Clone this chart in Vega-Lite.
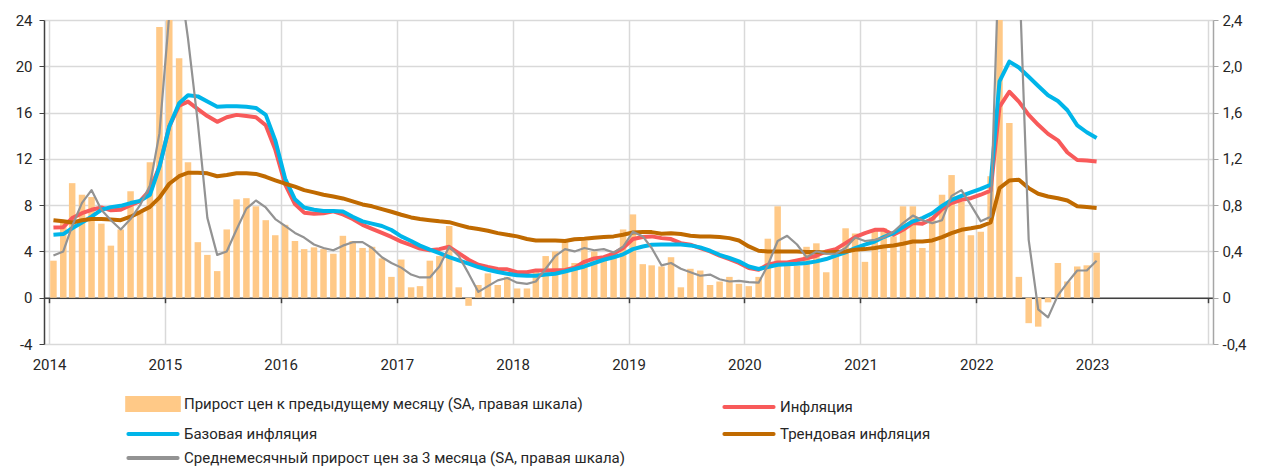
{
  "$schema": "https://vega.github.io/schema/vega-lite/v6.json",
  "width": 1169,
  "height": 324,
  "autosize": "none",
  "padding": {"left": 44, "top": 20, "right": 52, "bottom": 124},
  "background": "white",
  "config": {
    "font": "Roboto",
    "view": {"stroke": null},
    "axis": {"labelFont": "Roboto", "labelFontSize": 15, "labelColor": "#262626", "titleFontSize": 0},
    "legend": {
      "orient": "none", "legendX": 83, "legendY": 376, "direction": "horizontal", "columns": 2, "columnPadding": 91, "rowPadding": 8,
      "labelFont": "Roboto", "labelFontSize": 15, "labelColor": "#262626", "labelLimit": 700,
      "symbolOffset": 18, "labelOffset": 23, "symbolSize": 144, "symbolStrokeWidth": 4, "title": null
    }
  },
  "data": {"values": [
    {"d":"2014-01-15","m":0.32,"i":6.07,"b":5.44,"t":6.7,"a":0.365},
    {"d":"2014-02-15","m":0.65,"i":6.1,"b":5.5,"t":6.6,"a":0.40},
    {"d":"2014-03-15","m":0.99,"i":6.88,"b":6.0,"t":6.5,"a":0.62},
    {"d":"2014-04-15","m":0.89,"i":7.3,"b":6.5,"t":6.7,"a":0.82},
    {"d":"2014-05-15","m":0.87,"i":7.6,"b":7.0,"t":6.8,"a":0.93},
    {"d":"2014-06-15","m":0.64,"i":7.8,"b":7.6,"t":6.8,"a":0.76},
    {"d":"2014-07-15","m":0.45,"i":7.55,"b":7.83,"t":6.75,"a":0.67},
    {"d":"2014-08-15","m":0.59,"i":7.6,"b":7.94,"t":6.7,"a":0.59},
    {"d":"2014-09-15","m":0.92,"i":8.0,"b":8.18,"t":7.0,"a":0.68},
    {"d":"2014-10-15","m":0.75,"i":8.35,"b":8.37,"t":7.4,"a":0.80},
    {"d":"2014-11-15","m":1.17,"i":9.3,"b":8.9,"t":7.85,"a":0.97},
    {"d":"2014-12-15","m":2.34,"i":11.35,"b":11.3,"t":8.65,"a":1.42},
    {"d":"2015-01-15","m":3.85,"i":14.8,"b":14.8,"t":9.85,"a":2.45},
    {"d":"2015-02-15","m":2.07,"i":16.6,"b":16.8,"t":10.5,"a":2.8},
    {"d":"2015-03-15","m":1.17,"i":16.95,"b":17.5,"t":10.8,"a":2.24},
    {"d":"2015-04-15","m":0.48,"i":16.3,"b":17.4,"t":10.8,"a":1.51},
    {"d":"2015-05-15","m":0.37,"i":15.7,"b":16.95,"t":10.75,"a":0.69},
    {"d":"2015-06-15","m":0.23,"i":15.2,"b":16.5,"t":10.5,"a":0.37},
    {"d":"2015-07-15","m":0.59,"i":15.6,"b":16.55,"t":10.6,"a":0.40},
    {"d":"2015-08-15","m":0.85,"i":15.8,"b":16.55,"t":10.75,"a":0.59},
    {"d":"2015-09-15","m":0.86,"i":15.7,"b":16.5,"t":10.75,"a":0.77},
    {"d":"2015-10-15","m":0.79,"i":15.6,"b":16.4,"t":10.7,"a":0.84},
    {"d":"2015-11-15","m":0.67,"i":14.9,"b":15.8,"t":10.45,"a":0.78},
    {"d":"2015-12-15","m":0.54,"i":12.8,"b":13.6,"t":10.15,"a":0.68},
    {"d":"2016-01-15","m":0.63,"i":9.8,"b":10.3,"t":9.85,"a":0.62},
    {"d":"2016-02-15","m":0.49,"i":8.1,"b":8.5,"t":9.6,"a":0.56},
    {"d":"2016-03-15","m":0.42,"i":7.35,"b":7.8,"t":9.3,"a":0.52},
    {"d":"2016-04-15","m":0.435,"i":7.25,"b":7.6,"t":9.1,"a":0.46},
    {"d":"2016-05-15","m":0.42,"i":7.3,"b":7.5,"t":8.9,"a":0.43},
    {"d":"2016-06-15","m":0.38,"i":7.46,"b":7.5,"t":8.75,"a":0.41},
    {"d":"2016-07-15","m":0.535,"i":7.2,"b":7.46,"t":8.58,"a":0.45},
    {"d":"2016-08-15","m":0.49,"i":6.8,"b":7.0,"t":8.32,"a":0.48},
    {"d":"2016-09-15","m":0.43,"i":6.3,"b":6.6,"t":8.06,"a":0.48},
    {"d":"2016-10-15","m":0.44,"i":5.95,"b":6.4,"t":7.9,"a":0.43},
    {"d":"2016-11-15","m":0.34,"i":5.6,"b":6.2,"t":7.66,"a":0.35},
    {"d":"2016-12-15","m":0.18,"i":5.25,"b":5.85,"t":7.43,"a":0.30},
    {"d":"2017-01-15","m":0.33,"i":4.85,"b":5.3,"t":7.17,"a":0.26},
    {"d":"2017-02-15","m":0.09,"i":4.55,"b":4.9,"t":6.94,"a":0.20},
    {"d":"2017-03-15","m":0.10,"i":4.25,"b":4.5,"t":6.8,"a":0.175},
    {"d":"2017-04-15","m":0.32,"i":4.1,"b":4.15,"t":6.7,"a":0.175},
    {"d":"2017-05-15","m":0.36,"i":4.2,"b":3.86,"t":6.6,"a":0.27},
    {"d":"2017-06-15","m":0.62,"i":4.4,"b":3.51,"t":6.53,"a":0.44},
    {"d":"2017-07-15","m":0.09,"i":3.86,"b":3.22,"t":6.3,"a":0.36},
    {"d":"2017-08-15","m":-0.07,"i":3.28,"b":2.94,"t":6.07,"a":0.21},
    {"d":"2017-09-15","m":0.11,"i":2.85,"b":2.65,"t":5.93,"a":0.05},
    {"d":"2017-10-15","m":0.21,"i":2.65,"b":2.42,"t":5.79,"a":0.10},
    {"d":"2017-11-15","m":0.11,"i":2.48,"b":2.22,"t":5.58,"a":0.15},
    {"d":"2017-12-15","m":0.18,"i":2.45,"b":2.07,"t":5.44,"a":0.17},
    {"d":"2018-01-15","m":0.08,"i":2.2,"b":1.95,"t":5.3,"a":0.13},
    {"d":"2018-02-15","m":0.08,"i":2.2,"b":1.9,"t":5.07,"a":0.12},
    {"d":"2018-03-15","m":0.23,"i":2.36,"b":1.9,"t":4.95,"a":0.14},
    {"d":"2018-04-15","m":0.36,"i":2.36,"b":2.0,"t":4.95,"a":0.25},
    {"d":"2018-05-15","m":0.40,"i":2.38,"b":2.07,"t":4.95,"a":0.36},
    {"d":"2018-06-15","m":0.48,"i":2.4,"b":2.27,"t":4.9,"a":0.42},
    {"d":"2018-07-15","m":0.30,"i":2.6,"b":2.48,"t":5.05,"a":0.40},
    {"d":"2018-08-15","m":0.49,"i":3.1,"b":2.7,"t":5.1,"a":0.43},
    {"d":"2018-09-15","m":0.40,"i":3.4,"b":3.0,"t":5.18,"a":0.41},
    {"d":"2018-10-15","m":0.36,"i":3.5,"b":3.28,"t":5.24,"a":0.42},
    {"d":"2018-11-15","m":0.38,"i":3.8,"b":3.5,"t":5.3,"a":0.39},
    {"d":"2018-12-15","m":0.59,"i":4.29,"b":3.75,"t":5.44,"a":0.44},
    {"d":"2019-01-15","m":0.72,"i":5.07,"b":4.2,"t":5.64,"a":0.57},
    {"d":"2019-02-15","m":0.29,"i":5.24,"b":4.43,"t":5.67,"a":0.53},
    {"d":"2019-03-15","m":0.28,"i":5.3,"b":4.58,"t":5.67,"a":0.43},
    {"d":"2019-04-15","m":0.27,"i":5.15,"b":4.6,"t":5.53,"a":0.28},
    {"d":"2019-05-15","m":0.35,"i":5.07,"b":4.6,"t":5.58,"a":0.30},
    {"d":"2019-06-15","m":0.09,"i":4.72,"b":4.6,"t":5.5,"a":0.25},
    {"d":"2019-07-15","m":0.25,"i":4.58,"b":4.52,"t":5.35,"a":0.22},
    {"d":"2019-08-15","m":0.235,"i":4.29,"b":4.35,"t":5.3,"a":0.19},
    {"d":"2019-09-15","m":0.11,"i":4.0,"b":4.06,"t":5.3,"a":0.20},
    {"d":"2019-10-15","m":0.14,"i":3.63,"b":3.71,"t":5.24,"a":0.16},
    {"d":"2019-11-15","m":0.18,"i":3.34,"b":3.43,"t":5.15,"a":0.14},
    {"d":"2019-12-15","m":0.12,"i":3.0,"b":3.14,"t":4.95,"a":0.145},
    {"d":"2020-01-15","m":0.10,"i":2.56,"b":2.7,"t":4.43,"a":0.135},
    {"d":"2020-02-15","m":0.18,"i":2.42,"b":2.48,"t":4.06,"a":0.13},
    {"d":"2020-03-15","m":0.51,"i":2.85,"b":2.65,"t":4.0,"a":0.28},
    {"d":"2020-04-15","m":0.79,"i":3.05,"b":2.85,"t":4.0,"a":0.49},
    {"d":"2020-05-15","m":0.30,"i":3.05,"b":2.9,"t":4.0,"a":0.535},
    {"d":"2020-06-15","m":0.275,"i":3.22,"b":2.94,"t":4.0,"a":0.46},
    {"d":"2020-07-15","m":0.44,"i":3.4,"b":3.0,"t":3.95,"a":0.35},
    {"d":"2020-08-15","m":0.47,"i":3.63,"b":3.14,"t":3.95,"a":0.40},
    {"d":"2020-09-15","m":0.22,"i":4.0,"b":3.34,"t":3.9,"a":0.38},
    {"d":"2020-10-15","m":0.43,"i":4.2,"b":3.63,"t":3.95,"a":0.38},
    {"d":"2020-11-15","m":0.60,"i":4.72,"b":3.92,"t":4.0,"a":0.43},
    {"d":"2020-12-15","m":0.555,"i":5.24,"b":4.29,"t":4.15,"a":0.52},
    {"d":"2021-01-15","m":0.31,"i":5.58,"b":4.58,"t":4.2,"a":0.49},
    {"d":"2021-02-15","m":0.59,"i":5.87,"b":4.86,"t":4.29,"a":0.50},
    {"d":"2021-03-15","m":0.60,"i":5.87,"b":5.24,"t":4.43,"a":0.52},
    {"d":"2021-04-15","m":0.53,"i":5.44,"b":5.58,"t":4.52,"a":0.57},
    {"d":"2021-05-15","m":0.79,"i":5.87,"b":6.1,"t":4.66,"a":0.645},
    {"d":"2021-06-15","m":0.79,"i":6.45,"b":6.6,"t":4.86,"a":0.71},
    {"d":"2021-07-15","m":0.43,"i":6.4,"b":6.88,"t":4.86,"a":0.67},
    {"d":"2021-08-15","m":0.70,"i":6.8,"b":7.3,"t":4.95,"a":0.645},
    {"d":"2021-09-15","m":0.89,"i":7.66,"b":7.94,"t":5.24,"a":0.67},
    {"d":"2021-10-15","m":1.06,"i":8.18,"b":8.46,"t":5.58,"a":0.88},
    {"d":"2021-11-15","m":0.83,"i":8.46,"b":8.8,"t":5.87,"a":0.93},
    {"d":"2021-12-15","m":0.54,"i":8.6,"b":9.1,"t":6.0,"a":0.80},
    {"d":"2022-01-15","m":0.57,"i":8.9,"b":9.4,"t":6.16,"a":0.66},
    {"d":"2022-02-15","m":1.05,"i":9.25,"b":9.76,"t":6.5,"a":0.70},
    {"d":"2022-03-15","m":7.6,"i":16.5,"b":18.7,"t":9.47,"a":3.1},
    {"d":"2022-04-15","m":1.51,"i":17.8,"b":20.4,"t":10.13,"a":3.4},
    {"d":"2022-05-15","m":0.18,"i":16.95,"b":19.9,"t":10.2,"a":2.9},
    {"d":"2022-06-15","m":-0.22,"i":15.8,"b":19.1,"t":9.47,"a":0.50},
    {"d":"2022-07-15","m":-0.25,"i":14.94,"b":18.3,"t":8.98,"a":-0.10},
    {"d":"2022-08-15","m":-0.04,"i":14.16,"b":17.5,"t":8.75,"a":-0.17},
    {"d":"2022-09-15","m":0.30,"i":13.6,"b":17.0,"t":8.6,"a":0.02},
    {"d":"2022-10-15","m":0.14,"i":12.55,"b":16.2,"t":8.4,"a":0.13},
    {"d":"2022-11-15","m":0.27,"i":11.9,"b":14.9,"t":7.9,"a":0.235},
    {"d":"2022-12-15","m":0.28,"i":11.86,"b":14.3,"t":7.83,"a":0.235},
    {"d":"2023-01-15","m":0.39,"i":11.77,"b":13.8,"t":7.75,"a":0.32}
  ]},
  "layer": [
    {
      "mark": {"type": "bar", "width": 6.5, "clip": true},
      "encoding": {
        "x": {"field": "d", "type": "temporal", "title": null,
          "scale": {"type": "utc", "nice": false, "domain": [{"year": 2014, "month": 1, "date": 1, "utc": true}, {"year": 2024, "month": 1, "date": 1, "utc": true}]},
          "axis": {"orient": "bottom", "offset": -46.3, "grid": true, "gridColor": "#D9D9D9", "gridWidth": 1.5, "domainColor": "#404040", "domainWidth": 1.5, "tickColor": "#404040", "tickWidth": 1.5, "tickSize": 5, "tickCount": {"interval": "year", "step": 1}, "format": "%Y", "labelExpr": "datum.label == '2024' ? '' : datum.label", "labelPadding": 55, "labelFlush": false, "labelOverlap": false, "labelDx": 4}},
        "y": {"field": "m", "type": "quantitative", "title": null,
          "scale": {"domain": [-0.4, 2.4], "nice": false, "zero": false},
          "axis": {"orient": "right", "values": [-0.4, 0, 0.4, 0.8, 1.2, 1.6, 2, 2.4], "grid": false, "domainColor": "#A6A6A6", "domainWidth": 1.5, "tickColor": "#A6A6A6", "tickSize": 5, "labelPadding": 4, "labelExpr": "datum.value == 0 ? '0' : replace(replace(format(datum.value, '.1f'), '.', ','), '−', '-')"}},
        "color": {"datum": "Прирост цен к предыдущему месяцу (SA, правая шкала)", "type": "nominal",
          "scale": {"domain": ["Прирост цен к предыдущему месяцу (SA, правая шкала)", "Инфляция", "Базовая инфляция", "Трендовая инфляция", "Среднемесячный прирост цен за 3 месяца (SA, правая шкала)"], "range": ["#FFC987", "#F85A5A", "#00B5E9", "#C06A00", "#939393"]},
          "legend": {"encode": {"symbols": {"update": {
            "shape": {"signal": "datum.value === 'Прирост цен к предыдущему месяцу (SA, правая шкала)' ? 'M-4.3,-1H4.3V1H-4.3Z' : 'M-4.1,0H4.1'"},
            "size": {"value": 144},
            "fill": {"signal": "datum.value === 'Прирост цен к предыдущему месяцу (SA, правая шкала)' ? '#FFC987' : 'transparent'"},
            "stroke": {"signal": "datum.value === 'Прирост цен к предыдущему месяцу (SA, правая шкала)' ? 'transparent' : scale('color', datum.value)"},
            "strokeWidth": {"value": 4},
            "strokeCap": {"value": "round"},
            "opacity": {"value": 1}
          }}}}
        }
      }
    },
    {
      "layer": [
        {"mark": {"type": "line", "strokeWidth": 4, "clip": true, "strokeJoin": "round"},
         "encoding": {
           "x": {"field": "d", "type": "temporal", "title": null},
           "y": {"field": "i", "type": "quantitative", "title": null,
             "scale": {"domain": [-4, 24], "nice": false, "zero": false},
             "axis": {"orient": "left", "values": [-4, 0, 4, 8, 12, 16, 20, 24], "grid": true, "gridColor": "#D9D9D9", "gridWidth": 1.5, "domainColor": "#404040", "domainWidth": 1.5, "tickColor": "#404040", "tickSize": 5, "labelPadding": 7, "labelExpr": "'' + datum.value"}},
           "color": {"datum": "Инфляция", "type": "nominal"}
         }},
        {"mark": {"type": "line", "strokeWidth": 4, "clip": true, "strokeJoin": "round"},
         "encoding": {
           "x": {"field": "d", "type": "temporal", "title": null},
           "y": {"field": "b", "type": "quantitative", "title": null},
           "color": {"datum": "Базовая инфляция", "type": "nominal"}
         }},
        {"mark": {"type": "line", "strokeWidth": 4, "clip": true, "strokeJoin": "round"},
         "encoding": {
           "x": {"field": "d", "type": "temporal", "title": null},
           "y": {"field": "t", "type": "quantitative", "title": null},
           "color": {"datum": "Трендовая инфляция", "type": "nominal"}
         }}
      ]
    },
    {
      "mark": {"type": "line", "strokeWidth": 2.2, "clip": true, "strokeJoin": "round"},
      "encoding": {
        "x": {"field": "d", "type": "temporal", "title": null},
        "y": {"field": "a", "type": "quantitative", "title": null,
          "scale": {"domain": [-0.4, 2.4], "nice": false, "zero": false}, "axis": null},
        "color": {"datum": "Среднемесячный прирост цен за 3 месяца (SA, правая шкала)", "type": "nominal"}
      }
    }
  ],
  "resolve": {"scale": {"y": "independent"}}
}
